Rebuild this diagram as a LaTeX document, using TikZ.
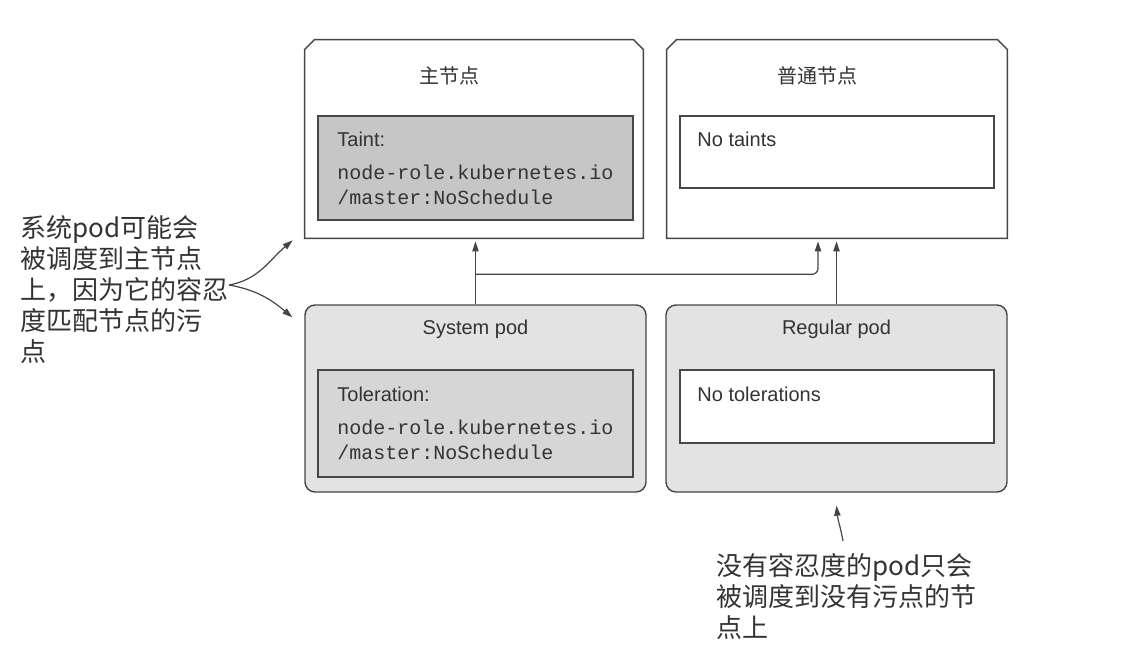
\documentclass[tikz,border=0pt]{standalone}
\usepackage{fontspec}
\setmainfont{Liberation Sans}
\setmonofont{Liberation Mono}
\newfontfamily\cjk{Noto Sans CJK SC}
\usetikzlibrary{positioning, calc, arrows.meta}
\definecolor{inkgray}{HTML}{333333}
\definecolor{linegray}{HTML}{454545}
\definecolor{podfill}{HTML}{E3E3E3}
\definecolor{taintfill}{HTML}{C6C6C6}
\definecolor{tolfill}{HTML}{D6D6D6}
\tikzset{
>={Triangle[length=5pt, width=3.2pt]}, % small solid heads
hostbox/.style={fill=white, inner sep=0pt}, % outline drawn with a chamfered top below
podbox/.style={draw=linegray, line width=0.7pt, rounded corners=5pt, fill=podfill, inner sep=0pt},
keybox/.style={draw=black!72, line width=1pt, inner sep=0pt},
title/.style={font=\fontsize{10}{12}\selectfont, text=inkgray, inner sep=0pt},
keytext/.style={font=\fontsize{10}{12.5}\selectfont, text=inkgray, align=left, anchor=north west, inner sep=0pt},
note/.style={font=\cjk\fontsize{13}{15.5}\selectfont, text=inkgray, align=left, anchor=north west, inner sep=0pt},
}

\begin{document}
\begin{tikzpicture}[x=0.5pt, y=-0.5pt]
  \useasboundingbox (0,0) rectangle (1122,648);
  % nodes
  \node[hostbox, minimum width=169pt, minimum height=99pt] (master) at (474,139) {};
  \node[hostbox, minimum width=170pt, minimum height=99pt] (worker) at (837,139) {};
  \foreach \n in {master, worker}
    \draw[linegray, line width=0.7pt] (\n.south west) -- ($(\n.north west)+(0,10)$)
      -- ($(\n.north west)+(10,0)$) -- ($(\n.north east)+(-10,0)$)
      -- ($(\n.north east)+(0,10)$) -- (\n.south east) -- cycle;
  \node[title] at ($(master.north)+(-25,36)$) {\cjk 主节点};
  \node[title] at ($(worker.north)+(-20,36)$) {\cjk 普通节点};
  \node[keybox, fill=taintfill, minimum width=157.5pt, minimum height=52pt] (taint) at (475.5,168) {};
  \node[keybox, fill=white, minimum width=157pt, minimum height=36pt] (notaint) at (837,152) {};
  \node[keytext] at ($(taint.north west)+(20,17)$) {Taint:\\[4pt]\ttfamily node-role.kubernetes.io\\\ttfamily /master:NoSchedule};
  \node[keytext] at ($(notaint.north west)+(18,17)$) {No taints};
  % pods
  \node[podbox, minimum width=170.5pt, minimum height=93.5pt] (syspod) at (475.5,398.5) {};
  \node[podbox, minimum width=170.5pt, minimum height=93.5pt] (regpod) at (836.5,398.5) {};
  \node[title] at ($(syspod.north)+(0,25)$) {System pod};
  \node[title] at ($(regpod.north)+(0,25)$) {Regular pod};
  \node[keybox, fill=tolfill, minimum width=157.5pt, minimum height=53.5pt] (tol) at (475.5,423.5) {};
  \node[keybox, fill=white, minimum width=157pt, minimum height=36.5pt] (notol) at (837,406.5) {};
  \node[keytext] at ($(tol.north west)+(20,18)$) {Toleration:\\[4pt]\ttfamily node-role.kubernetes.io\\\ttfamily /master:NoSchedule};
  \node[keytext] at ($(notol.north west)+(18,18)$) {No tolerations};
  % where a pod may go
  \coordinate (split) at ($(syspod.north)+(0,-30)$);
  \draw[->, linegray, line width=0.6pt, shorten >=1.5pt] (syspod.north) -- (syspod.north |- master.south);
  \draw[->, linegray, line width=0.6pt, shorten >=1.5pt, rounded corners=3pt] (split) -| ($(worker.south)+(-19,0)$);
  \draw[->, linegray, line width=0.6pt, shorten >=1.5pt] (regpod.north) -- (regpod.north |- worker.south);
  % notes
  \node[note] (sysnote) at (20,215) {系统pod可能会\\被调度到主节点\\上，因为它的容忍\\度匹配节点的污\\点};
  \coordinate (fork) at (229,285);
  \coordinate (uptip) at ($(master.south west)+(-12,2)$);
  \coordinate (downtip) at ($(syspod.north west)+(-12,13)$);
  \draw[->, linegray, line width=0.6pt] (fork) to[out=10, in=220] (uptip);
  \draw[->, linegray, line width=0.6pt] (fork) to[out=-10, in=140] (downtip);
  \node[note] (regnote) at (716,553) {没有容忍度的pod只会\\被调度到没有污点的节\\点上};
  \coordinate (regfoot) at ($(regnote.north west)+(127,-12)$);
  \draw[->, linegray, line width=0.6pt] (regfoot) to[out=100, in=-85] ($(regpod.south)+(0,13)$);
\end{tikzpicture}
\end{document}
